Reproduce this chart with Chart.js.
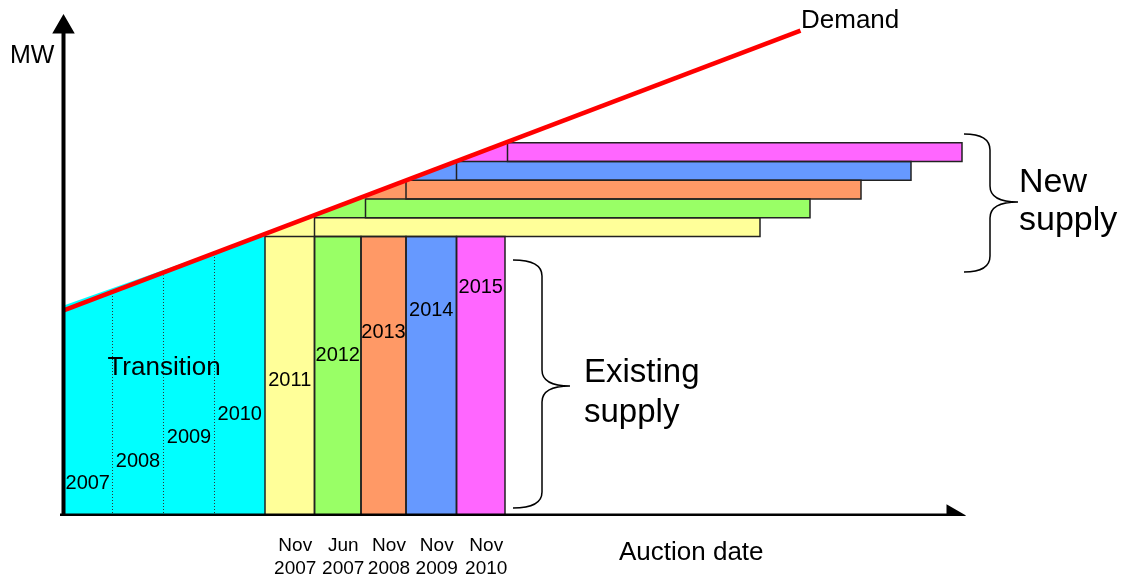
<!DOCTYPE html>
<html>
<head>
<meta charset="utf-8">
<title>Demand and supply by auction</title>
<script src="https://cdn.jsdelivr.net/npm/chart.js@4/dist/chart.umd.min.js"></script>
<style>
	html, body { margin: 0; padding: 0; background: #fff; }
	#wrap { width: 1125px; height: 577px; position: relative; }
</style>
</head>
<body>
<div id="wrap"><canvas id="supplyChart"></canvas></div>
<script>
// delivery years, one per column
var deliveryYears = ['2007', '2008', '2009', '2010', '2011', '2012', '2013', '2014', '2015'];
// auction held for each of the last five columns
var auctionDates = [['Nov', '2007'], ['Jun', '2007'], ['Nov', '2008'], ['Nov', '2009'], ['Nov', '2010']];
// column edges on the time axis (first four columns = transition)
var columnEdges = [0, 0.99, 2.01, 3.03, 4.04, 5.03, 5.96, 6.86, 7.87, 8.84];
var existingMW = 27.95;
// demand line end points
var demandX = [0, 14.75];
var demandMW = [20.53, 48.53];
// new supply blocks
var newStart = [5.03, 6.05, 6.86, 7.87, 8.89];
var newEnd = [13.94, 14.94, 15.96, 16.96, 17.98];
var newLevels = [27.95, 29.83, 31.7, 33.57, 35.45, 37.33];

// styling / layout
var colours = ['#FFFF99', '#99FF66', '#FF9966', '#6699FF', '#FF66FF'];
var transitionColour = '#00FFFF';
var yearLabelY = [2.7, 4.95, 7.3, 9.6, 13.05, 15.5, 17.8, 20.0, 22.3];
var FONT = '"Liberation Sans", Arial, sans-serif';

function demandAt(x) {
	return demandMW[0] + (demandMW[1] - demandMW[0]) * (x - demandX[0]) / (demandX[1] - demandX[0]);
}

var datasets = [];
function add(ds) {
	if (ds.pointRadius === undefined) ds.pointRadius = 0;
	if (ds.fill === undefined) ds.fill = false;
	datasets.push(ds);
}
function area(points, base, colour, order) {
	add({ data: points, fill: { value: base }, backgroundColor: colour, borderColor: 'transparent', borderWidth: 0, order: order });
}
function box(x0, x1, y0, y1, colour) {
	area([{ x: x0, y: y0 }, { x: x0, y: y1 }, { x: x1, y: y1 }, { x: x1, y: y0 }], y0, colour, 4);
	add({
		data: [{ x: x0, y: y0 }, { x: x0, y: y1 }, { x: x1, y: y1 }, { x: x1, y: y0 }, { x: x0, y: y0 }],
		borderColor: '#222', borderWidth: 1.5, borderCapStyle: 'square', order: 3
	});
}

// axes with arrow heads
add({
	data: [{ x: -0.06, y: 0.05 }, { x: 17.8, y: 0.05 }],
	borderColor: '#000', borderWidth: 4, pointRadius: [0, 9], pointStyle: 'triangle', pointRotation: 90,
	pointBackgroundColor: '#000', pointBorderColor: '#000', order: 0
});
add({
	data: [{ x: 0.01, y: -0.25 }, { x: 0.01, y: 48.9 }],
	borderColor: '#000', borderWidth: 4, pointRadius: [0, 9], pointStyle: 'triangle', pointRotation: 0,
	pointBackgroundColor: '#000', pointBorderColor: '#000', order: 0
});

// demand
add({
	data: [{ x: demandX[0], y: demandMW[0] }, { x: demandX[1], y: demandMW[1] }],
	borderColor: '#FF0000', borderWidth: 4.5, order: 1
});

// dotted dividers in the transition block
for (var i = 1; i < 4; i++) {
	add({
		data: [{ x: columnEdges[i], y: 0 }, { x: columnEdges[i], y: demandAt(columnEdges[i]) - 0.3 }],
		borderColor: '#333', borderWidth: 1, borderDash: [1, 2], order: 2
	});
}

// existing supply columns
for (var k = 0; k < 5; k++) {
	box(columnEdges[4 + k], columnEdges[5 + k], 0, existingMW, colours[k]);
}
// new supply blocks
for (var k = 0; k < 5; k++) {
	box(newStart[k], newEnd[k], newLevels[k], newLevels[k + 1], colours[k]);
}
// wedges under the demand line
for (var k = 0; k < 5; k++) {
	var xa = k === 0 ? columnEdges[4] : newStart[k - 1];
	var xb = newStart[k];
	area([{ x: xa, y: newLevels[k] }, { x: xa, y: demandAt(xa) }, { x: xb, y: demandAt(xb) }, { x: xb, y: newLevels[k] }],
		newLevels[k], colours[k], 4);
}
// transition block
area([{ x: 0, y: 0 }, { x: 0, y: demandMW[0] + 0.5 }, { x: columnEdges[4], y: demandAt(columnEdges[4]) }, { x: columnEdges[4], y: 0 }],
	0, transitionColour, 5);

var auctionTicks = [];
for (var k = 0; k < auctionDates.length; k++) {
	auctionTicks.push((columnEdges[4 + k] + columnEdges[5 + k]) / 2 + 0.11);
}

var notes = [
	{ text: 'MW', x: -1.06, y: 45.3, size: 25 },
	{ text: 'Demand', x: 14.76, y: 48.8, size: 26 },
	{ text: 'Transition', x: 2.02, y: 14.1, size: 26, align: 'center' },
	{ text: 'Existing', x: 10.42, y: 13.4, size: 33 },
	{ text: 'supply', x: 10.42, y: 9.4, size: 33 },
	{ text: 'New', x: 19.12, y: 32.4, size: 34 },
	{ text: 'supply', x: 19.12, y: 28.6, size: 34 },
	{ text: 'Auction date', x: 11.12, y: -4.4, size: 26 }
];
deliveryYears.forEach(function (yr, i) {
	notes.push({ text: yr, x: (columnEdges[i] + columnEdges[i + 1]) / 2, y: yearLabelY[i], size: 20, align: 'center' });
});
var braces = [
	{ x: 9.0, bend: 9.58, tip: 10.14, top: 25.6, mid: 13.0, bottom: 0.8 },
	{ x: 18.02, bend: 18.54, tip: 19.1, top: 38.2, mid: 31.4, bottom: 24.4 }
];

var notesPlugin = {
	id: 'notes',
	afterDatasetsDraw: function (chart) {
		var ctx = chart.ctx, xs = chart.scales.x, ys = chart.scales.y;
		ctx.save();
		ctx.fillStyle = '#000';
		ctx.textBaseline = 'alphabetic';
		notes.forEach(function (n) {
			ctx.font = n.size + 'px ' + FONT;
			ctx.textAlign = n.align || 'left';
			ctx.fillText(n.text, xs.getPixelForValue(n.x), ys.getPixelForValue(n.y));
		});
		ctx.strokeStyle = '#000';
		ctx.lineWidth = 1.5;
		var r = 16;
		braces.forEach(function (b) {
			var xl = xs.getPixelForValue(b.x), xv = xs.getPixelForValue(b.bend), xt = xs.getPixelForValue(b.tip);
			var yt = ys.getPixelForValue(b.top), ym = ys.getPixelForValue(b.mid), yb = ys.getPixelForValue(b.bottom);
			ctx.beginPath();
			ctx.moveTo(xl, yt);
			ctx.quadraticCurveTo(xv, yt, xv, yt + r);
			ctx.lineTo(xv, ym - r);
			ctx.quadraticCurveTo(xv, ym, xt, ym);
			ctx.quadraticCurveTo(xv, ym, xv, ym + r);
			ctx.lineTo(xv, yb - r);
			ctx.quadraticCurveTo(xv, yb, xl, yb);
			ctx.stroke();
		});
		ctx.restore();
	}
};

Chart.defaults.font.family = FONT;
Chart.defaults.color = '#000';

var ctx = document.getElementById('supplyChart').getContext('2d');
var supplyChart = new Chart(ctx, {
	type: 'line',
	data: { datasets: datasets },
	options: {
		responsive: true,
		maintainAspectRatio: false,
		animation: false,
		layout: { padding: 0, autoPadding: false },
		plugins: { legend: { display: false }, tooltip: { enabled: false } },
		scales: {
			x: {
				type: 'linear', min: -1.26, max: 21.24,
				grid: { display: false, drawTicks: false },
				border: { display: false },
				afterBuildTicks: function (scale) {
					scale.ticks = auctionTicks.map(function (v) { return { value: v }; });
				},
				afterFit: function (scale) { scale.height = 61; },
				ticks: {
					autoSkip: false, maxRotation: 0, padding: 18,
					font: { size: 19, lineHeight: '23px' },
					callback: function (value, index) { return auctionDates[index]; }
				}
			},
			y: { type: 'linear', min: 0, max: 51.6, display: false }
		}
	},
	plugins: [notesPlugin]
});
</script>
</body>
</html>
